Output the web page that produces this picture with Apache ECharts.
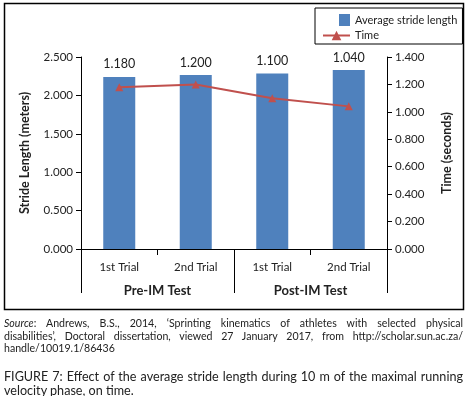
<!DOCTYPE html>
<html>
<head>
<meta charset="utf-8">
<script src="https://cdn.jsdelivr.net/npm/echarts@6/dist/echarts.min.js"></script>
<style>
  body { margin:0; background:#fff; }
  #chart { position:absolute; left:0; top:0; width:469px; height:396px; }
  .cap { position:absolute; left:4px; width:459px; color:#222; font-family:Lato, sans-serif; }
  .cap div { text-align:justify; white-space:nowrap; }
  .cap .full { text-align-last:justify; white-space:normal; }
</style>
</head>
<body>
<div id="chart"></div>
<div class="cap" style="top:317px;font-size:10.6px;line-height:12.6px;">
  <div class="full"><i>Source</i>: Andrews, B.S., 2014, ‘Sprinting kinematics of athletes with selected physical</div>
  <div class="full">disabilities’, Doctoral dissertation, viewed 27 January 2017, from http://scholar.sun.ac.za/</div>
  <div>handle/10019.1/86436</div>
</div>
<div class="cap" style="top:370px;font-size:12.6px;line-height:13.5px;">
  <div class="full">FIGURE 7: Effect of the average stride length during 10 m of the maximal running</div>
  <div>velocity phase, on time.</div>
</div>
<script>
// ---------- data ----------
var trials = ['1st Trial', '2nd Trial', '1st Trial', '2nd Trial'];
var groups = ['Pre-IM Test', 'Post-IM Test'];
var strideLength = [2.24, 2.265, 2.285, 2.33];
var timeSec = [1.18, 1.20, 1.10, 1.04];

var chart = echarts.init(document.getElementById('chart'));
var txt = '#222';
var fnt = 'Lato';

var option = {
    animation: false,
    textStyle: { fontFamily: fnt },
    graphic: [{
        type: 'rect',
        shape: { x: 4.5, y: 3.5, width: 459, height: 306 },
        style: { fill: 'none', stroke: '#000', lineWidth: 1.5 }
    }],
    legend: {
        orient: 'vertical',
        left: 315,
        top: 8,
        padding: [6, 5, 3, 7],
        itemGap: 4,
        itemWidth: 27,
        itemHeight: 12,
        borderColor: '#000',
        borderWidth: 1,
        textStyle: { fontSize: 11, color: txt, fontFamily: fnt },
        data: [
            { name: 'Average stride length', icon: 'path://M16,0h11v12h-11z M0,0h0.01v0.01h-0.01z' },
            { name: 'Time' }
        ]
    },
    grid: { left: 81, right: 82, top: 57, bottom: 147 },
    xAxis: [{
        type: 'category',
        data: trials,
        position: 'bottom',
        axisLine: { onZero: false, lineStyle: { color: '#000' } },
        axisTick: { show: true, interval: 0, length: 6, lineStyle: { color: '#000' } },
        axisLabel: { margin: 12, fontSize: 11.5, color: txt, fontFamily: fnt }
    }, {
        type: 'category',
        data: groups,
        position: 'bottom',
        axisLine: { show: true, onZero: false, lineStyle: { color: '#000' } },
        axisTick: { show: true, interval: 0, length: 44, lineStyle: { color: '#000' } },
        axisLabel: { margin: 35, fontSize: 13, fontWeight: 'bold', color: txt, fontFamily: fnt }
    }],
    yAxis: [{
        type: 'value',
        min: 0, max: 2.5, interval: 0.5,
        name: 'Stride Length (meters)',
        nameLocation: 'middle',
        nameGap: 50,
        nameTextStyle: { fontSize: 12.5, fontWeight: 'bold', color: txt, fontFamily: fnt },
        axisLine: { show: true, lineStyle: { color: '#000' } },
        axisTick: { show: true, length: 5, lineStyle: { color: '#000' } },
        splitLine: { show: false },
        axisLabel: { fontSize: 11.5, color: txt, margin: 8, fontFamily: fnt,
            formatter: function (v) { return v.toFixed(3); } }
    }, {
        type: 'value',
        min: 0, max: 1.4, interval: 0.2,
        name: 'Time (seconds)',
        nameLocation: 'middle',
        nameGap: 53,
        nameTextStyle: { fontSize: 12.5, fontWeight: 'bold', color: txt, fontFamily: fnt },
        axisLine: { show: true, lineStyle: { color: '#000' } },
        axisTick: { show: true, length: 5, lineStyle: { color: '#000' } },
        splitLine: { show: false },
        axisLabel: { fontSize: 11.5, color: txt, margin: 8, fontFamily: fnt,
            formatter: function (v) { return v.toFixed(3); } }
    }],
    series: [{
        name: 'Average stride length',
        type: 'bar',
        xAxisIndex: 0,
        yAxisIndex: 0,
        barWidth: 32,
        itemStyle: { color: '#4F81BD' },
        label: {
            show: true,
            position: 'top',
            distance: 6,
            fontSize: 12.5,
            color: txt,
            fontFamily: fnt,
            formatter: function (p) { return timeSec[p.dataIndex].toFixed(3); }
        },
        data: strideLength
    }, {
        name: 'Time',
        type: 'line',
        xAxisIndex: 0,
        yAxisIndex: 1,
        symbol: 'triangle',
        symbolSize: 8,
        itemStyle: { color: '#C0504D' },
        lineStyle: { color: '#C0504D', width: 2 },
        data: timeSec
    }]
};

chart.setOption(option);
</script>
</body>
</html>
